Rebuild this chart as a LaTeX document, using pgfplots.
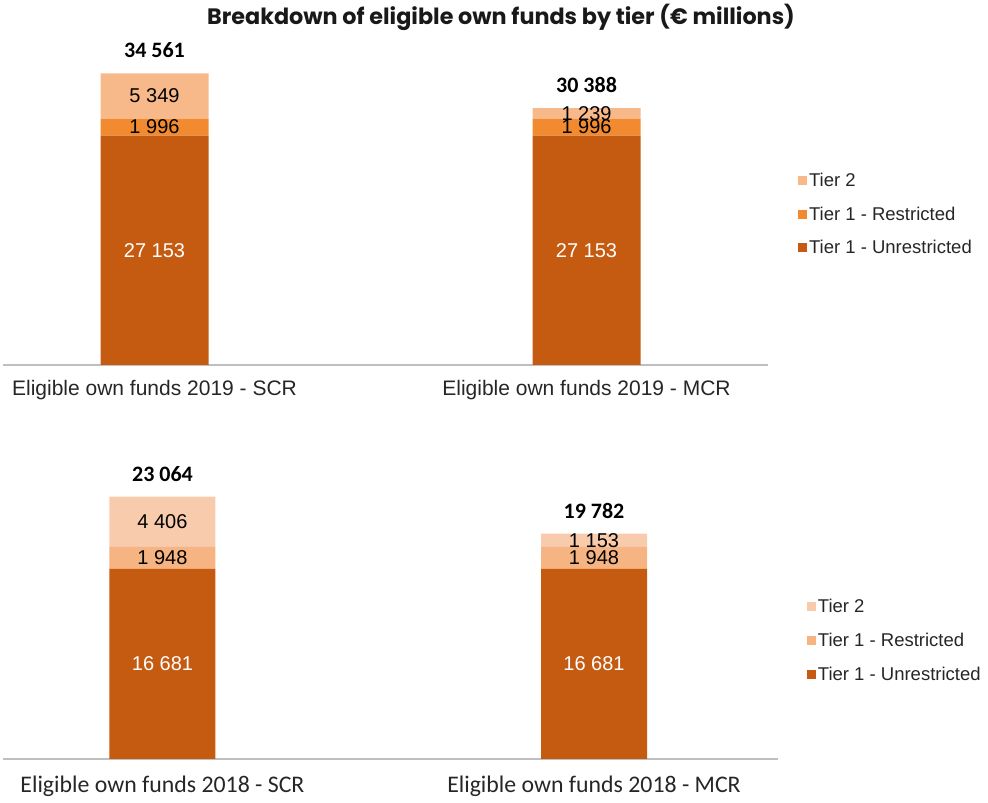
\documentclass[border=0pt]{standalone}
\usepackage{fontspec}
\setmainfont{Liberation Sans}
\newfontfamily\carlito{Carlito}
\newfontfamily\poppins{Poppins}
\usepackage{pgfplots}
\pgfplotsset{compat=1.18}
\definecolor{unres}{HTML}{C55A11}
\definecolor{resA}{HTML}{F28A30}
\definecolor{tierA}{HTML}{F8B98A}
\definecolor{resB}{HTML}{F6B482}
\definecolor{tierB}{HTML}{F8CBAD}
\definecolor{axgray}{HTML}{BFBFBF}
\pgfplotsset{
  base/.style={scale only axis, ymin=0, enlargelimits=false, xtick={0,1}, major tick length=0pt, clip=false},
  bars/.style={ybar stacked, axis x line*=bottom, axis y line=none,
    x axis line style={draw=axgray, line width=1.6pt},
    legend cell align=left, reverse legend,
    legend image code/.code={\fill[##1] (0pt,-4.5pt) rectangle (9pt,4.5pt);},
  },
  lab/.style={only marks, mark=none, nodes near coords, point meta=explicit symbolic},
  seg/.style={every node near coord/.style={anchor=center, inner sep=0pt, font=\fontsize{20}{24}\selectfont, text=#1}},
  tot/.style={every node near coord/.style={anchor=center, inner sep=0pt, yshift=23pt, font=\carlito\bfseries\fontsize{22}{26}\selectfont, text=black}},
}
\begin{document}
\begin{tikzpicture}[x=1pt,y=1pt]
\path[use as bounding box] (0,0) rectangle (988,803);
\node[font=\poppins\bfseries\fontsize{22.3}{25}\selectfont, text=black!90] at (501,786) {Breakdown of eligible own funds by tier (€ millions)};

% ---- 2019 ----
\begin{axis}[base, bars, at={(3pt,438pt)}, anchor=south west, width=765pt, height=300pt,
  xmin=-0.3507, xmax=1.420, ymax=35500, bar width=108pt,
  xticklabels={Eligible own funds 2019 - SCR, Eligible own funds 2019 - MCR},
  xticklabel style={anchor=center, yshift=-25pt, font=\fontsize{21}{24}\selectfont, text=black!85},
  legend style={at={(rel axis cs:1.039,0.503)}, anchor=west, draw=none, fill=none, inner sep=0pt,
    font=\fontsize{18.5}{22}\selectfont, row sep=15pt, text=black!85}]
\addplot[fill=unres, draw=none] coordinates {(0,27153) (1,27153)};
\addplot[fill=resA, draw=none] coordinates {(0,1996) (1,1996)};
\addplot[fill=tierA, draw=none] coordinates {(0,5349) (1,1239)};
\legend{Tier 1 - Unrestricted, Tier 1 - Restricted, Tier 2}
\end{axis}
\begin{axis}[base, hide axis, at={(3pt,438pt)}, anchor=south west, width=765pt, height=300pt,
  xmin=-0.3507, xmax=1.420, ymax=35500]
\addplot[lab, seg=white] coordinates {(0,13576.5)[27 153] (1,13576.5)[27 153]};
\addplot[lab, seg=black] coordinates {(0,28151)[1 996] (1,28151)[1 996]};
\addplot[lab, seg=black] coordinates {(0,31823.5)[5 349] (1,29768.5)[1 239]};
\addplot[lab, tot] coordinates {(0,34498)[34 561] (1,30388)[30 388]};
\end{axis}

% ---- 2018 ----
\begin{axis}[base, bars, at={(3pt,44pt)}, anchor=south west, width=775pt, height=270pt,
  xmin=-0.3696, xmax=1.4264, ymax=23705, bar width=106pt,
  xticklabels={Eligible own funds 2018 - SCR, Eligible own funds 2018 - MCR},
  xticklabel style={anchor=center, yshift=-27pt, font=\carlito\fontsize{23.8}{27}\selectfont, text=black!85},
  legend style={at={(rel axis cs:1.037,0.44)}, anchor=west, draw=none, fill=none, inner sep=0pt,
    font=\fontsize{18.5}{22}\selectfont, row sep=15pt, text=black!85}]
\addplot[fill=unres, draw=none] coordinates {(0,16681) (1,16681)};
\addplot[fill=resB, draw=none] coordinates {(0,1948) (1,1948)};
\addplot[fill=tierB, draw=none] coordinates {(0,4406) (1,1153)};
\legend{Tier 1 - Unrestricted, Tier 1 - Restricted, Tier 2}
\end{axis}
\begin{axis}[base, hide axis, at={(3pt,44pt)}, anchor=south west, width=775pt, height=270pt,
  xmin=-0.3696, xmax=1.4264, ymax=23705]
\addplot[lab, seg=white] coordinates {(0,8340.5)[16 681] (1,8340.5)[16 681]};
\addplot[lab, seg=black] coordinates {(0,17655)[1 948] (1,17655)[1 948]};
\addplot[lab, seg=black] coordinates {(0,20832)[4 406] (1,19205.5)[1 153]};
\addplot[lab, tot] coordinates {(0,23035)[23 064] (1,19782)[19 782]};
\end{axis}
\end{tikzpicture}
\end{document}
